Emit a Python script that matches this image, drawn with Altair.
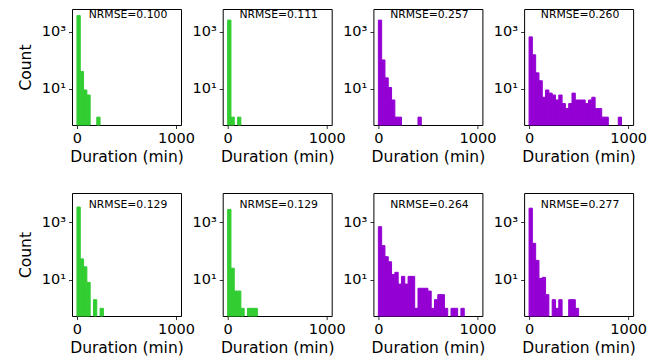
import altair as alt
import pandas as pd

# ---- data ----
BIN_WIDTH = 1000 / 30  # minutes per histogram bin
counts_1 = [3700, 40, 9, 6, 0, 0, 1]
counts_2 = [2570, 1, 0, 1]
counts_3 = [2560, 102, 24, 11, 4, 1, 1, 0, 0, 0, 0, 0, 1]
counts_4 = [660, 155, 36, 19, 5, 9, 7, 6, 4, 6, 3, 2, 3, 7, 4, 4, 4, 3, 4, 5, 2, 2, 1, 1, 0, 0, 0, 1]
counts_5 = [3400, 53, 28, 8, 0, 2, 0, 1]
counts_6 = [2800, 25, 4, 4, 1, 0, 1, 1, 1]
counts_7 = [700, 153, 63, 42, 15, 18, 7, 13, 7, 13, 13, 1, 5, 5, 5, 4, 1, 2, 3, 3, 1, 0, 1, 1, 0, 1]
counts_8 = [3100, 185, 47, 11, 12, 3, 0, 2, 1, 2, 0, 0, 2, 2, 1]
panel_counts = [counts_1, counts_2, counts_3, counts_4, counts_5, counts_6, counts_7, counts_8]
nrmse = ["0.100", "0.111", "0.257", "0.260", "0.129", "0.129", "0.264", "0.277"]
GREEN = "#32cd32"
PURPLE = "#9400d3"
panel_colors = [GREEN, GREEN, PURPLE, PURPLE, GREEN, GREEN, PURPLE, PURPLE]
x_ticks = [0, 1000]
y_ticks = [10, 1000]

FONT = "DejaVu Sans"
PANEL_W = 109
ROW_H = [116, 123]
Y_DOMAINS = [[0.53, 6300], [0.54, 10500]]
TEXT_Y = [5.7, 12]


def panel(i):
    row = i // 4
    col = i % 4
    rows = []
    for k, c in enumerate(panel_counts[i]):
        if c > 0:
            rows.append({"start": k * BIN_WIDTH, "end": (k + 1) * BIN_WIDTH, "count": c})
    df = pd.DataFrame(rows)
    ydom = Y_DOMAINS[row]
    bars = alt.Chart(df).mark_bar(
        color=panel_colors[i], opacity=1, stroke=panel_colors[i], strokeWidth=1
    ).encode(
        x=alt.X("start:Q",
                scale=alt.Scale(domain=[-50, 1050], nice=False, zero=False),
                axis=alt.Axis(values=x_ticks, format="d", title="Duration (min)")),
        x2="end:Q",
        y=alt.Y("count:Q",
                scale=alt.Scale(type="log", domain=ydom, nice=False, clamp=True),
                axis=alt.Axis(values=y_ticks,
                              labelExpr="datum.value == 1000 ? '10³' : '10¹'",
                              title="Count" if col == 0 else None)),
        y2=alt.datum(ydom[0]),
    )
    label = alt.Chart(pd.DataFrame({"t": ["NRMSE=" + nrmse[i]]})).mark_text(
        font=FONT, fontSize=10.8, color="black", baseline="middle", align="center"
    ).encode(text="t:N", x=alt.value(56), y=alt.value(TEXT_Y[row]))
    return alt.layer(bars, label).properties(width=PANEL_W, height=ROW_H[row])


chart = alt.concat(
    *[panel(i) for i in range(8)], columns=4,
    spacing={"row": 68, "column": 41.7}, bounds="flush"
).properties(
    padding={"left": 9, "top": 0, "right": 5, "bottom": 5}
).configure_view(
    stroke="black", strokeWidth=1
).configure_axis(
    labelFont=FONT, titleFont=FONT, labelFontSize=14.5, titleFontSize=15.5,
    titleFontWeight="normal", labelColor="black", titleColor="black",
    tickColor="black", tickSize=3.5, tickWidth=0.8, grid=False, domain=False,
    labelPadding=3, titlePadding=4
).configure_axisY(titlePadding=8).configure_axisX(labelFlush=False)

chart.save("out.html", embed_options={"renderer": "svg", "actions": False})
